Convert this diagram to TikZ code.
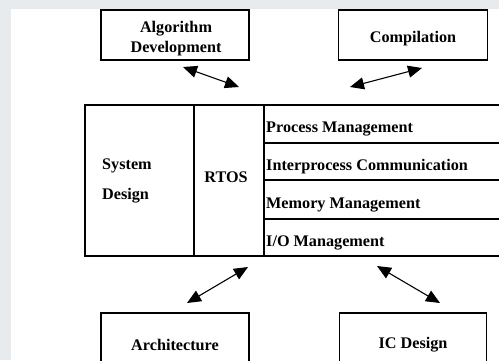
\documentclass[tikz,border=0pt]{standalone}
\usepackage{fontspec}
\setmainfont{Liberation Serif}
\usetikzlibrary{arrows.meta}
\definecolor{pagegray}{RGB}{232,235,238}
\begin{document}
\begin{tikzpicture}[x=1bp,y=-1bp,
  lbl/.style={font=\fontsize{16.26}{20}\selectfont\bfseries, inner sep=0},
  box/.style={draw, line width=1.5bp, inner sep=0},
  cell/.style={draw, line width=1.6bp, inner sep=0},
  link/.style={line width=1.1bp,
    {Triangle[length=14bp,width=12bp]}-{Triangle[length=14bp,width=12bp]}}]
  \useasboundingbox (0,0) rectangle (499,360);
  % sheet on a grey margin
  \fill[pagegray] (0,0) rectangle (499,360);
  \fill[white] (11,9) rectangle (499,360);

  % outer boxes
  \node[box, minimum width=148bp, minimum height=50bp] (algo) at (175,35) {};
  \node[box, minimum width=149bp, minimum height=50bp] (comp) at (413,35) {};
  \node[box, minimum width=148bp, minimum height=62bp] (arch) at (175,344) {};
  \node[box, minimum width=147bp, minimum height=62bp] (icd) at (413,344) {};
  \node[lbl, align=center] (algotxt) at (176,39) {Algorithm\\Development};
  \node[lbl] (comptxt) at (413,39) {Compilation};
  \node[lbl] (archtxt) at (175,345) {Architecture};
  \node[lbl] (icdtxt) at (413,345) {IC Design};

  % central block
  \node[cell, minimum width=109bp, minimum height=151bp, anchor=north west]
    (sysd) at (84,104) {};
  \node[cell, minimum width=70bp, minimum height=151bp, anchor=north west]
    (rtos) at (193,104) {};
  \node[cell, minimum width=247bp, minimum height=38bp, anchor=north west]
    (pm) at (263,104) {};
  \node[cell, minimum width=247bp, minimum height=37bp, anchor=north west]
    (ipc) at (263,142) {};
  \node[cell, minimum width=247bp, minimum height=39bp, anchor=north west]
    (mm) at (263,179) {};
  \node[cell, minimum width=247bp, minimum height=37bp, anchor=north west]
    (io) at (263,218) {};

  \node[lbl, align=left, anchor=west,
        font=\fontsize{16.26}{30}\selectfont\bfseries]
    (sysdtxt) at (102,181) {System\\Design};
  \node[lbl] (rtostxt) at (226,177) {RTOS};
  \node[lbl, anchor=west] (pmtxt)  at (266,129) {Process Management};
  \node[lbl, anchor=west] (ipctxt) at (266,167) {Interprocess Communication};
  \node[lbl, anchor=west] (mmtxt)  at (266,205) {Memory Management};
  \node[lbl, anchor=west] (iotxt)  at (266,243) {I/O Management};

  % two-way links
  \coordinate (a1s) at (183,67);  \coordinate (a1e) at (239,87);
  \coordinate (a2s) at (350,87);  \coordinate (a2e) at (422,68);
  \coordinate (a3s) at (248,267); \coordinate (a3e) at (187,303);
  \coordinate (a4s) at (377,266); \coordinate (a4e) at (440,303);
  \draw[link] (a1s) -- (a1e);
  \draw[link] (a2s) -- (a2e);
  \draw[link] (a3s) -- (a3e);
  \draw[link] (a4s) -- (a4e);
\end{tikzpicture}
\end{document}
